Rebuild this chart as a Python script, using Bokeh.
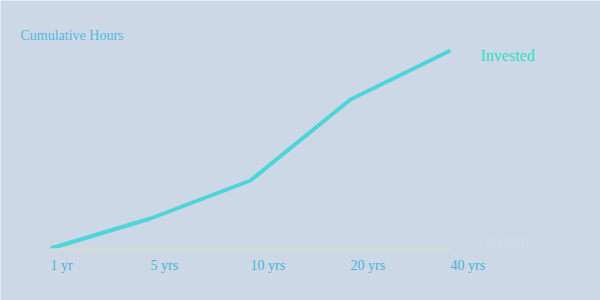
from bokeh.plotting import figure
from bokeh.models import Range1d, Label
from bokeh.core.properties import value
from bokeh.embed import file_html
from bokeh.resources import INLINE

categories = ["1 yr", "5 yrs", "10 yrs", "20 yrs", "40 yrs"]
invested = [0, 15, 34, 74.5, 99]
wasted = [0, 0, 0, 0, 0]
series_names = ["Invested", "Wasted"]

xs = list(range(len(categories)))

p = figure(width=600, height=300, output_backend="svg", toolbar_location=None,
           x_range=Range1d(-0.5, 5.5), y_range=Range1d(-26, 124),
           min_border=0, min_border_left=0, min_border_right=0,
           min_border_top=0, min_border_bottom=0)
p.background_fill_color = "#ccd8e6"
p.border_fill_color = "#ccd8e6"
p.outline_line_color = None
p.xaxis.visible = False
p.yaxis.visible = False
p.grid.visible = False

FONT = value("Liberation Serif")

p.line(xs, invested, line_color="#4fd4da", line_width=4)
p.line(xs, [w - 0.6 for w in wasted], line_color="#d4dad7", line_width=3)

# tick labels
p.text(x=xs, y=[-8.5] * len(xs), text=categories, text_font=FONT,
       text_font_size="14px", text_color="#49b4d9", text_baseline="middle",
       text_align="left")

# series labels at right end
p.text(x=[4.3], y=[invested[-1] - 2.5], text=[series_names[0]], text_font=FONT,
       text_font_size="16px", text_color="#2fdfc2", text_baseline="middle",
       text_align="left")
p.text(x=[4.32], y=[wasted[-1] + 3.5], text=[series_names[1]], text_font=FONT,
       text_font_size="16px", text_color="#d2dbe6", text_baseline="middle",
       text_align="left")

p.add_layout(Label(x=20, y=265, x_units="screen", y_units="screen",
                   text="Cumulative Hours", text_font="Liberation Serif",
                   text_font_size="14px", text_color="#52b8de",
                   text_baseline="middle"))

open("out.html", "w").write(file_html(p, INLINE))
